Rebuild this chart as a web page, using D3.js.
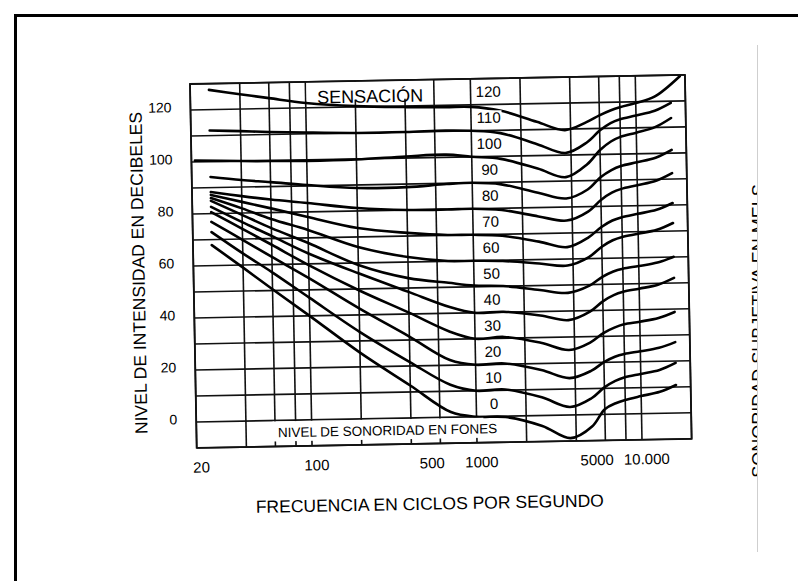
<!DOCTYPE html>
<html><head><meta charset="utf-8">
<script src="https://cdn.jsdelivr.net/npm/d3@7"></script>
<style>
html,body{margin:0;padding:0;background:#fff;}
svg{display:block;}
text{font-family:"Liberation Sans",Arial,Helvetica,sans-serif;fill:#000;}
</style></head><body>
<svg id="c" width="798" height="581"></svg>
<script>
// ---------- data ----------
const levels = [0,10,20,30,40,50,60,70,80,90,100,110,120];
const startFreqs = [26,26,26,26,26,26,26,26,26,26,21,26,26];
const endFreqs = [16300,16300,16300,16300,16300,16300,16300,16300,16300,16300,16300,16300,18600];
const midFreqs = [40,60,100,200,400,700,1000,1500,2500,3700,5000,6000,7000,8000,10000,13000];
const db0   = [67.9,59,50.5,40,25.5,12.5,2,0,-0.3,-4,-8.9,-4.6,2,4.2,5.4,6.8,8.3,10.8];
const db10  = [72.9,64.5,57,47,33.5,21.5,12.5,10,10.3,7,3.1,6.3,10.4,12.8,14.1,15.3,16.7,19.3];
const db20  = [76.8,69.7,62.9,54.5,42.5,31.3,22,20,20.3,17.5,14.2,16.8,20.1,22.1,23.1,24,25.2,27.3];
const db30  = [80.6,73.9,67.6,59.5,49.5,40.5,33,30,30.5,28,25,27.8,31.3,33.3,34.5,35.4,36.7,38.9];
const db40  = [82.6,76.5,71,64,56,48.5,42.5,40,40.2,38.5,36.5,39.6,43.5,45.8,47,48.1,49.5,52];
const db50  = [84.9,79.3,74,68,59.2,53.8,51.7,50.5,50.1,48.3,47,49.6,52.9,54.9,55.9,56.8,58,60.1];
const db60  = [86,81.8,77.5,73,66.1,61.9,60.1,60,59.7,58.5,57.5,60.6,64.5,66.9,68.1,69.2,70.6,73.1];
const db70  = [87.2,84.3,81.6,78,73.4,71.2,70.1,70,69.4,66.9,64.6,68.2,72.1,74.5,75.7,76.9,78.3,80.8];
const db80  = [88.3,86.5,85,83.4,81.1,80,79.9,80,79.3,76.6,74.8,78.1,82.5,85.2,86.6,87.9,89.5,92.3];
const db90  = [94.1,92.7,91.7,90.3,88.8,88.8,89.7,90,89.2,85.7,83.3,86.6,91.2,93.9,95.4,96.7,98.3,101.2];
const db100 = [100.5,100,99.8,99.6,99.8,100.6,101,100,99,95,91.5,96.3,101.7,104.9,106.6,108.1,110.1,113.5];
const db110 = [112,111.5,111,110.5,110,110,110.3,110,108.9,104.4,100.8,104.7,109.2,112,113.4,114.7,116.4,119.3];
const db120 = [127.6,125.7,124,121.9,120.3,119.6,119.3,119.2,117.6,113,109.6,112.5,115,116.8,118,119.5,121.8,129.5];
const curveDb = [db0,db10,db20,db30,db40,db50,db60,db70,db80,db90,db100,db110,db120];

const gridFreqs = [20,40,60,80,100,200,400,600,1000,2000,4000,6000,8000,10000,20000];
const gridDb = [-10,0,10,20,30,40,50,60,70,80,90,100,110,120,130];
const dbTicks = [0,20,40,60,80,100,120];
const freqTicks = [20,100,500,1000,5000,10000];
const freqTickLabels = ["20","100","500","1000","5000","10.000"];

// ---------- layout ----------
const W = 495, H = 364;
const svg = d3.select("#c");
svg.append("rect").attr("width",798).attr("height",581).attr("fill","#fff");
// outer frame
svg.append("rect").attr("x",15.5).attr("y",15.5).attr("width",900).attr("height",900)
  .attr("fill","none").attr("stroke","#000").attr("stroke-width",3);
// faint scan edge line
svg.append("line").attr("x1",757.5).attr("x2",757.5).attr("y1",45).attr("y2",552)
  .attr("stroke","#cfcfcf").attr("stroke-width",1);
// clipped neighbour text (only the tops of the letters show)
svg.append("clipPath").attr("id","rclip").append("rect")
  .attr("x",0).attr("y",0).attr("width",757).attr("height",581);
svg.append("g").attr("clip-path","url(#rclip)").append("text")
  .attr("transform","translate(764.5,331) rotate(-90)")
  .attr("text-anchor","middle").attr("font-size",18)
  .text("SONORIDAD SUBJETIVA EN MELS");

const g = svg.append("g").attr("transform","translate(190,84) rotate(-1.06)");
const x = d3.scaleLog().domain([20,20000]).range([0,W]);
const y = d3.scaleLinear().domain([-10,130]).range([H,0]);

// grid
g.append("g").selectAll("line").data(gridFreqs).join("line")
  .attr("x1",d=>x(d)).attr("x2",d=>x(d)).attr("y1",0).attr("y2",H)
  .attr("stroke","#111").attr("stroke-width",1.6);
g.append("g").selectAll("line").data(gridDb).join("line")
  .attr("x1",0).attr("x2",W).attr("y1",d=>y(d)).attr("y2",d=>y(d))
  .attr("stroke","#111").attr("stroke-width",1.6);

// curves
const line = d3.line().x(d=>x(d[0])).y(d=>y(d[1])).curve(d3.curveCatmullRom.alpha(0.5));
levels.forEach((lv,i)=>{
  const vals = curveDb[i];
  const pts = [[startFreqs[i], vals[0]]]
    .concat(midFreqs.map((f,j)=>[f, vals[j+1]]))
    .concat([[endFreqs[i], vals[vals.length-1]]]);
  g.append("path").attr("d", line(pts)).attr("fill","none")
    .attr("stroke","#000").attr("stroke-width",2.6).attr("stroke-linecap","round");
});

// curve labels with white boxes
const labG = g.append("g");
levels.forEach(lv=>{
  const t = labG.append("text").attr("x", x(1280)).attr("y", y(lv+5))
    .attr("text-anchor","middle").attr("dy","0.36em").attr("font-size",15).text(lv);
  const b = t.node().getBBox();
  labG.insert("rect","text:last-child").attr("x",b.x-1).attr("y",b.y+1.5)
    .attr("width",b.width+2).attr("height",b.height-3).attr("fill","#fff");
});

// SENSACION box
g.append("rect").attr("x",x(100)+1).attr("y",y(130)+1).attr("width",x(600)-x(100)-2)
  .attr("height",y(122.8)-y(130)-1).attr("fill","#fff");
g.append("text").attr("x",x(246)).attr("y",y(124.1)).attr("dy","0.36em")
  .attr("text-anchor","middle").attr("font-size",18).text("SENSACIÓN");

// NIVEL DE SONORIDAD box
g.append("rect").attr("x",x(58)).attr("y",y(-0.4)).attr("width",x(1100)-x(58))
  .attr("height",y(-8.1)-y(-0.4)).attr("fill","#fff");
g.append("text").attr("x",x(288)).attr("y",y(-4.6)).attr("dy","0.36em")
  .attr("text-anchor","middle").attr("font-size",13.5).text("NIVEL DE SONORIDAD EN FONES");

// chart border
g.append("rect").attr("x",0).attr("y",0).attr("width",W).attr("height",H)
  .attr("fill","none").attr("stroke","#111").attr("stroke-width",1.8);

// axes (labels only)
const ya = g.append("g").call(d3.axisLeft(y).tickValues(dbTicks).tickSize(0).tickPadding(19).tickFormat(d=>d));
ya.select(".domain").remove();
ya.selectAll("text").attr("font-size",14).attr("font-family","Liberation Sans, Arial, sans-serif").attr("fill","#000").attr("y",-3);

const xa = g.append("g").attr("transform",`translate(0,${H})`)
  .call(d3.axisBottom(x).tickValues(freqTicks).tickSize(0).tickPadding(14)
    .tickFormat((d,i)=>freqTickLabels[i]));
xa.select(".domain").remove();
xa.selectAll("text").attr("font-size",15).attr("font-family","Liberation Sans, Arial, sans-serif").attr("fill","#000").attr("dx",4);

// axis titles
g.append("text").attr("x",232).attr("y",H+66).attr("text-anchor","middle")
  .attr("font-size",17.5).text("FRECUENCIA EN CICLOS POR SEGUNDO");
g.append("text").attr("transform",`translate(-49,${188}) rotate(-90)`).attr("text-anchor","middle")
  .attr("font-size",17.5).text("NIVEL DE INTENSIDAD EN DECIBELES");
</script>
</body></html>
